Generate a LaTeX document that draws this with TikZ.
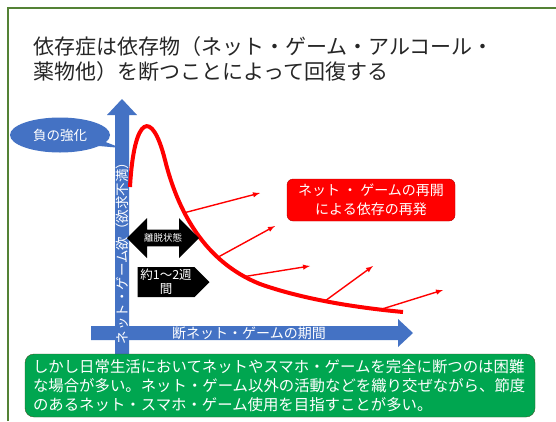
\documentclass[tikz,border=0pt]{standalone}
\usepackage{fontspec}
\setmainfont{Noto Sans CJK JP}
\usetikzlibrary{shapes,arrows,positioning,calc}
\definecolor{axisblue}{RGB}{68,114,196}
\definecolor{framegreen}{RGB}{84,130,53}
\definecolor{notegreen}{RGB}{0,166,80}
\definecolor{noteborder}{RGB}{56,87,35}
\definecolor{relapsered}{RGB}{255,0,0}
\newcommand{\jpsize}[1]{\fontsize{#1}{#1}\selectfont}

\begin{document}
\begin{tikzpicture}[x=1pt, y=-1pt,
  whitetext/.style={text=white, inner sep=0pt},
  relarrow/.style={-latex, relapsered, line width=1.4pt}]
  \useasboundingbox (0,0) rectangle (556,421);
  \fill[white] (0,0) rectangle (556,421);
  \draw[framegreen, line width=1.5pt] (8,421) -- (8,8) -- (556,8);

  % title
  \node[anchor=west, align=left, inner sep=0pt, text=black!85, font=\fontsize{21}{25}\selectfont] (title) at (33,59.5) {依存症は依存物（ネット・ゲーム・アルコール・\\薬物他）を断つことによって回復する};

  % axes
  \fill[axisblue] (91,326) -- (398,326) -- (398,319) -- (413,333) -- (398,347) -- (398,340) -- (91,340) -- cycle;
  \fill[axisblue] (115,362) -- (115,115) -- (107,115) -- (122,99) -- (137,115) -- (129,115) -- (129,362) -- cycle;
  \node[whitetext, rotate=90, font=\jpsize{13.5}] (ylabel) at (122,250) {ネット・ゲーム欲（欲求不満）};
  \node[whitetext, font=\jpsize{14}] (xlabel) at (249,333) {断ネット・ゲームの期間};

  % callout
  \node[ellipse callout, fill=axisblue, text=white, minimum width=100pt, minimum height=35pt, inner sep=0pt, font=\jpsize{13.5}, callout absolute pointer={(121,148)}] (reinforce) at (60,135) {負の強化};

  % relapse curve
  \draw[relapsered, line width=4pt] (130,187) .. controls (134,115) and (152,108) .. (165,160)
    .. controls (178,212) and (205,262) .. (260,284)
    coordinate[pos=0.35] (c1) coordinate[pos=0.7] (c2) coordinate[pos=0.9] (c3)
    .. controls (305,300) and (360,308) .. (403,312)
    coordinate[pos=0.45] (c4) coordinate[pos=0.83] (c5);
  \coordinate (e1) at (260,193);
  \coordinate (e2) at (275,226);
  \coordinate (e3) at (310,266);
  \coordinate (e4) at (373,266);
  \coordinate (e5) at (443,290);
  \foreach \i in {1,...,5}
    \draw[relarrow] (c\i) -- (e\i);

  \node[draw=red!70!black, fill=relapsered, rounded corners=6pt, minimum width=168pt, minimum height=42pt, align=center, text=white, font=\fontsize{14}{19}\selectfont] (relapse) at (371,200) {ネット ・ ゲームの再開\\による依存の再発};

  % withdrawal and duration
  \node[double arrow, fill=black, text=white, minimum height=72pt, minimum width=40pt, double arrow head extend=11pt, inner sep=3.5pt, font=\jpsize{9.5}] (withdrawal) at (163,238) {離脱状態};
  \node[signal, signal to=east, fill=black, text=white, minimum width=72pt, minimum height=30pt, inner sep=0pt, align=center, font=\fontsize{12.5}{14}\selectfont] (duration) at (166,282) {約1～2週\\間};

  % note
  \node[draw=noteborder, fill=notegreen, rounded corners=9pt, minimum width=510pt, minimum height=63pt, inner xsep=8pt, text width=494pt, align=left, text=white, font=\fontsize{15.4}{19}\selectfont] (note) at (280,385.5) {しかし日常生活においてネットやスマホ・ゲームを完全に断つのは困難\\な場合が多い。ネット・ゲーム以外の活動などを織り交ぜながら、節度\\のあるネット・スマホ・ゲーム使用を目指すことが多い。};
\end{tikzpicture}
\end{document}
